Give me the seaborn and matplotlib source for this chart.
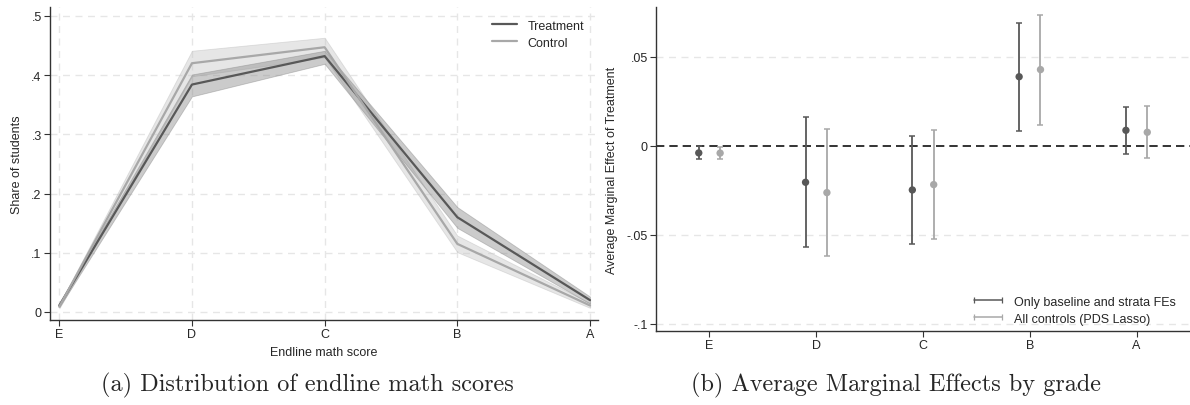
import numpy as np
import pandas as pd
import matplotlib
matplotlib.use("Agg")
import matplotlib.pyplot as plt
import seaborn as sns
from matplotlib.lines import Line2D

sns.set_theme(style="white")
plt.rcParams['font.family'] = ['Liberation Sans', 'DejaVu Sans']

# ---------------- data ----------------
grades = ["E", "D", "C", "B", "A"]

treat_share = [0.011, 0.384, 0.432, 0.160, 0.020]
treat_lo = [0.008, 0.364, 0.419, 0.142, 0.014]
treat_hi = [0.014, 0.401, 0.441, 0.177, 0.026]

ctrl_share = [0.009, 0.420, 0.447, 0.115, 0.011]
ctrl_lo = [0.006, 0.398, 0.430, 0.101, 0.007]
ctrl_hi = [0.012, 0.441, 0.463, 0.129, 0.015]

ame_base = [-0.0039, -0.0204, -0.0247, 0.0389, 0.0088]
ame_base_lo = [-0.0073, -0.0567, -0.0550, 0.0086, -0.0045]
ame_base_hi = [0.0000, 0.0161, 0.0058, 0.0693, 0.0221]

ame_lasso = [-0.0040, -0.0262, -0.0217, 0.0429, 0.0077]
ame_lasso_lo = [-0.0075, -0.0618, -0.0520, 0.0120, -0.0067]
ame_lasso_hi = [-0.0008, 0.0094, 0.0088, 0.0738, 0.0223]

left_yticks = [0, 0.1, 0.2, 0.3, 0.4, 0.5]
left_yticklabels = ["0", ".1", ".2", ".3", ".4", ".5"]
right_yticks = [-0.1, -0.05, 0, 0.05]
right_yticklabels = ["-.1", "-.05", "0", ".05"]

dark = "#585858"
light = "#a8a8a8"
grid_c = "#e6e6e6"

fig = plt.figure(figsize=(11.9, 4.06), dpi=100)
axL = fig.add_axes([0.042, 0.2094, 0.4605, 0.771])
axR = fig.add_axes([0.5513, 0.182, 0.4487, 0.798])

# ---------------- left panel ----------------
x = np.arange(len(grades))
df = pd.DataFrame({
    "x": np.concatenate([x, x]),
    "share": treat_share + ctrl_share,
    "group": ["Treatment"] * 5 + ["Control"] * 5,
})

axL.fill_between(x, ctrl_lo, ctrl_hi, color="#c8c8c8", alpha=0.45, lw=0.6, edgecolor="#bdbdbd", zorder=2)
axL.fill_between(x, treat_lo, treat_hi, color="#8c8c8c", alpha=0.45, lw=0.6, edgecolor="#888888", zorder=3)
sns.lineplot(data=df, x="x", y="share", hue="group", palette={"Treatment": dark, "Control": light},
             hue_order=["Treatment", "Control"], ax=axL, lw=1.6, zorder=4, legend=False)

axL.set_xlim(-0.07, 4.06)
axL.set_ylim(-0.0135, 0.515)
axL.set_xticks(x)
axL.set_xticklabels(grades)
axL.set_yticks(left_yticks)
axL.set_yticklabels(left_yticklabels)
for xv in x:
    axL.axvline(xv, color=grid_c, ls=(0, (5, 4)), lw=1, zorder=0)
for yv in left_yticks:
    axL.axhline(yv, color=grid_c, ls=(0, (5, 4)), lw=1, zorder=0)
axL.set_xlabel("Endline math score", fontsize=9, labelpad=4)
axL.set_ylabel("Share of students", fontsize=9, labelpad=6)
handlesL = [Line2D([0], [0], color=dark, lw=1.6), Line2D([0], [0], color=light, lw=1.6)]
axL.legend(handlesL, ["Treatment", "Control"], loc="upper right", frameon=False, fontsize=9,
           handlelength=2.0, handletextpad=0.8, bbox_to_anchor=(0.995, 0.995), labelspacing=0.4)

# ---------------- right panel ----------------
off = 0.1
dfR = pd.DataFrame({
    "pos": np.concatenate([x - off, x + off]),
    "ame": ame_base + ame_lasso,
    "lo": ame_base_lo + ame_lasso_lo,
    "hi": ame_base_hi + ame_lasso_hi,
    "model": ["base"] * 5 + ["lasso"] * 5,
})
axR.axhline(0, color="#111111", ls=(0, (5, 3)), lw=1.2, zorder=1)
for yv in [-0.1, -0.05, 0.05]:
    axR.axhline(yv, color=grid_c, ls=(0, (5, 4)), lw=1, zorder=0)
for m, col in [("base", dark), ("lasso", light)]:
    sub = dfR[dfR.model == m]
    axR.errorbar(sub["pos"], sub["ame"], yerr=[sub["ame"] - sub["lo"], sub["hi"] - sub["ame"]],
                 fmt="none", ecolor=col, elinewidth=1.3, capsize=2.5, capthick=1.1, zorder=2)
sns.scatterplot(data=dfR, x="pos", y="ame", hue="model", palette={"base": dark, "lasso": light},
                ax=axR, s=28, edgecolor="none", legend=False, zorder=3)

axR.set_xlim(-0.5, 4.5)
axR.set_ylim(-0.104, 0.078)
axR.set_xticks(x)
axR.set_xticklabels(grades)
axR.set_yticks(right_yticks)
axR.set_yticklabels(right_yticklabels)
axR.set_xlabel("")
axR.set_ylabel("Average Marginal Effect of Treatment", fontsize=9, labelpad=6)
axR.legend([Line2D([0], [0], color=dark, lw=1.1, marker="|", markersize=4, markeredgewidth=0.9),
            Line2D([0], [0], color=light, lw=1.1, marker="|", markersize=4, markeredgewidth=0.9)],
           ["Only baseline and strata FEs", "All controls (PDS Lasso)"],
           loc="lower right", frameon=False, fontsize=9, handlelength=2.8, handletextpad=0.7,
           numpoints=2, bbox_to_anchor=(0.995, -0.015), labelspacing=0.4)

for ax in (axL, axR):
    for s in ("top", "right"):
        ax.spines[s].set_visible(False)
    for s in ("left", "bottom"):
        ax.spines[s].set_color("#333333")
        ax.spines[s].set_linewidth(1.0)
    ax.tick_params(axis="both", which="both", direction="out", length=4, width=0.8,
                   color="#333333", labelsize=9, pad=2, bottom=True, left=True)
    ax.set_facecolor("white")
    ax.grid(False)

# captions
fig.text(307 / 1190, 0.05, "(a) Distribution of endline math scores",
         ha="center", va="center", fontsize=17.5, family=["cmr10", "DejaVu Serif"])
fig.text(896 / 1190, 0.05, "(b) Average Marginal Effects by grade",
         ha="center", va="center", fontsize=17.5, family=["cmr10", "DejaVu Serif"])

fig.savefig("out.png", dpi=100, facecolor="white")
